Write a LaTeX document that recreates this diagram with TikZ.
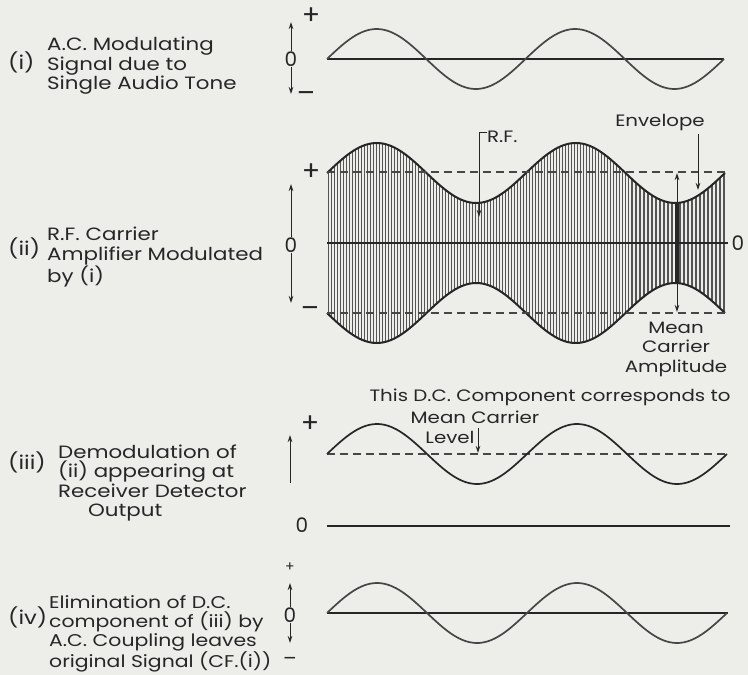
\documentclass[tikz,border=0pt]{standalone}
\usepackage{fontspec}
\setmainfont{Poppins}
\newfontfamily\widefont{Poppins}[FakeStretch=1.2]
\usetikzlibrary{arrows.meta}
\definecolor{bg}{RGB}{237,237,234}
\definecolor{ink}{RGB}{38,38,38}
\definecolor{sig}{RGB}{70,70,70}
\definecolor{hatchc}{RGB}{85,85,85}
\begin{document}
\begin{tikzpicture}[x=1pt,y=-1pt,
  lbl/.style={font=\widefont\fontsize{17.8}{19.5}\selectfont, align=left, anchor=west, inner sep=0pt, text=ink},
  roman/.style={font=\widefont\fontsize{19}{19}\selectfont, anchor=west, inner sep=0pt, text=ink},
  num/.style={font=\fontsize{20}{20}\selectfont, inner sep=0pt, text=ink},
  sign/.style={font=\fontsize{27}{27}\selectfont, inner sep=0pt, text=ink},
  note/.style={font=\widefont\fontsize{16.5}{19.5}\selectfont, align=center, inner sep=0pt, text=ink},
  axarrow/.style={draw=ink, line width=1pt, -{Stealth[length=7pt,width=4.5pt]}},
  wave/.style={draw=sig, line width=1.7pt},
  axisline/.style={draw=ink, line width=1.2pt},
  dashline/.style={draw=sig, line width=1.3pt, dash pattern=on 8pt off 5pt},
  envline/.style={draw=ink, line width=2pt},
  hatchline/.style={draw=hatchc, line width=0.8pt},
  hatchbold/.style={draw=hatchc, line width=1.1pt}]
\fill[bg] (0,0) rectangle (748,675);
\useasboundingbox (0,0) rectangle (748,675);

% ---------- (i) ----------
\node[roman] (ri) at (8,62) {(i)};
\node[lbl] (ti) at (47,66) {A.C. Modulating\\Signal due to\\Single Audio Tone};
\node[num] (z1) at (291,59) {0};
\node[sign] (p1) at (311,16) {+};
\node[sign] (m1) at (306,97) {–};
\coordinate (a1t) at (291,22);
\coordinate (a1b) at (291,94);
\draw[axarrow] (z1.north) -- (a1t);
\draw[axarrow] (z1.south) -- (a1b);
\coordinate (o1s) at (327,59);
\coordinate (o1e) at (724,59);
\draw[axisline] (o1s) -- (o1e);
\draw[wave] plot[domain=327:724, samples=140] (\x,{59-30*sin(1.8136*(\x-327))});

% ---------- (ii) ----------
\foreach \x in {328,331,...,628} {
  \pgfmathsetmacro\e{70+30*sin(1.80905*(\x-327))}
  \draw[hatchline] (\x,243-\e) -- (\x,243+\e);
}
\foreach \x in {632,636,...,724} {
  \pgfmathsetmacro\e{70+30*sin(1.80905*(\x-327))}
  \draw[hatchbold] (\x,243-\e) -- (\x,243+\e);
}
\draw[envline] plot[domain=327:725, samples=160] (\x,{243-70-30*sin(1.80905*(\x-327))});
\draw[envline] plot[domain=327:725, samples=160] (\x,{243+70+30*sin(1.80905*(\x-327))});
\coordinate (d1s) at (327,172); \coordinate (d1e) at (725,172);
\coordinate (d2s) at (327,313); \coordinate (d2e) at (725,313);
\draw[dashline] (d1s) -- (d1e);
\draw[dashline] (d2s) -- (d2e);
\coordinate (c2s) at (327,243); \coordinate (c2e) at (728,243);
\draw[axisline] (c2s) -- (c2e);
% mean carrier amplitude bar
\coordinate (bart) at (677,203); \coordinate (barb) at (677,283);
\draw[draw=ink, line width=3.2pt] (bart) -- (barb);
\coordinate (mtop) at (677,173); \coordinate (mbot) at (677,312);
\draw[axarrow] (bart) -- (mtop);
\draw[axarrow] (barb) -- (mbot);
\node[note] (mca) at (676,349) {Mean\\Carrier\\Amplitude};
% envelope label
\node[note] (env) at (660,123) {Envelope};
\coordinate (envs) at (698,134); \coordinate (envt) at (698,190);
\draw[axarrow] (envs) -- (envt);
% R.F. label
\node[note, anchor=west] (rf) at (487,137) {R.F.};
\coordinate (rft) at (479,217);
\draw[axarrow] ([yshift=5pt]rf.west) -| (rft);
% left labels
\node[roman] (rii) at (8,248) {(ii)};
\node[lbl] (tii) at (47,257) {R.F. Carrier\\Amplifier Modulated\\by (i)};
\node[sign] (p2) at (311,172) {+};
\node[sign] (m2) at (310,312) {–};
\node[num] (z2) at (291,245) {0};
\node[num] (z2r) at (738,243) {0};
\coordinate (a2t) at (291,184); \coordinate (a2b) at (291,303);
\draw[axarrow] (z2.north) -- (a2t);
\draw[axarrow] (z2.south) -- (a2b);

% ---------- (iii) ----------
\node[note] (dc) at (550,397) {This D.C. Component corresponds to};
\node[note] (mcl) at (475,417) {Mean Carrier};
\node[note] (lev) at (450,437) {Level};
\coordinate (levs) at (478,428); \coordinate (levt) at (478,453);
\draw[axarrow] (levs) -- (levt);
\coordinate (d3s) at (327,454); \coordinate (d3e) at (728,454);
\draw[dashline] (d3s) -- (d3e);
\draw[wave, draw=ink] plot[domain=327:727, samples=140] (\x,{454-30*sin(1.8*(\x-327))});
\coordinate (o3s) at (327,526); \coordinate (o3e) at (730,526);
\draw[axisline] (o3s) -- (o3e);
\node[num] (z3) at (302,525) {0};
\node[sign] (p3) at (310,424) {+};
\coordinate (a3s) at (290,483); \coordinate (a3t) at (290,435);
\draw[axarrow] (a3s) -- (a3t);
\node[roman] (riii) at (8,462) {(iii)};
\node[lbl] (tiii) at (58,483) {Demodulation of\\(ii) appearing at\\Receiver Detector\\\hspace*{30pt}Output};

% ---------- (iv) ----------
\coordinate (o4s) at (327,613); \coordinate (o4e) at (728,613);
\draw[axisline] (o4s) -- (o4e);
\draw[wave] plot[domain=327:727, samples=140] (\x,{613-30*sin(1.8*(\x-327))});
\node[num, font=\fontsize{14}{14}\selectfont] (p4) at (290,567) {+};
\node[num] (z4) at (290,615) {0};
\node[num] (m4) at (290,661) {–};
\coordinate (a4t) at (290,583); \coordinate (a4b) at (290,643);
\draw[axarrow] (z4.north) -- (a4t);
\draw[axarrow] (z4.south) -- (a4b);
\node[roman] (riv) at (8,617) {(iv)};
\node[lbl, font=\widefont\fontsize{17}{18.7}\selectfont] (tiv) at (49,634) {Elimination of D.C.\\component of (iii) by\\A.C. Coupling leaves\\original Signal (CF.(i))};
\end{tikzpicture}
\end{document}
